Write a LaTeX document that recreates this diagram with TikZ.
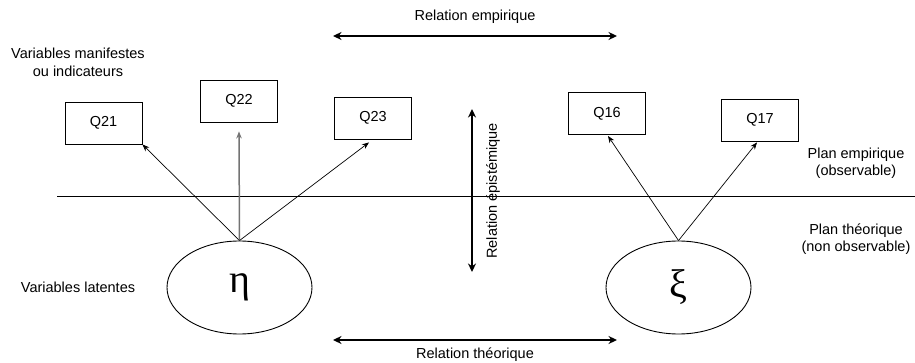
\documentclass[tikz,border=0pt]{standalone}
\usepackage{fontspec}
\setmainfont{Liberation Sans}
\newfontfamily\greekfont{Liberation Serif}
\usetikzlibrary{arrows.meta,shapes.geometric}
\tikzset{
  qbox/.style={draw,line width=0.9pt,minimum width=77pt,minimum height=42pt,inner sep=0pt,font=\fontsize{14.5}{17}\selectfont},
  lat/.style={draw,ellipse,line width=0.9pt,minimum width=145pt,minimum height=93pt,inner sep=0pt,font=\greekfont\fontsize{40}{40}\selectfont},
  lbl/.style={align=center,inner sep=0pt,font=\fontsize{14.5}{17.5}\selectfont},
  thin/.style={line width=0.7pt,-{Stealth[length=7pt,width=5.5pt]}},
  thick/.style={line width=2.6pt,{Stealth[length=8.5pt,width=8pt]}-{Stealth[length=8.5pt,width=8pt]}}
}
\begin{document}
\begin{tikzpicture}[x=1pt,y=-1pt]
\useasboundingbox (0,0) rectangle (915,363);
% boxes
\node[qbox] (q21) at (103.5,123) {Q21};
\node[qbox] (q22) at (239,101) {Q22};
\node[qbox] (q23) at (373,118) {Q23};
\node[qbox] (q16) at (607,113.5) {Q16};
\node[qbox] (q17) at (760,120) {Q17};
% latent
\node[lat] (eta) at (239.5,287.5) {η};
\node[lat] (xi) at (678.5,287.5) {ξ};
% plane separator
\coordinate (l1) at (57,196.5);
\coordinate (l2) at (915,196.5);
\draw[line width=0.9pt] (l1) -- (l2);
% loadings
\draw[thin] (eta.north) -- (q21.south east);
\draw[thin,black!55,line width=1.5pt] (eta.north) -- ([yshift=-9pt]q22.south);
\draw[thin] (eta.north) -- ([xshift=-4pt,yshift=-3pt]q23.south);
\draw[thin] (xi.north) -- ([xshift=1pt,yshift=-1pt]q16.south);
\draw[thin] (xi.north) -- ([xshift=-3pt,yshift=-1pt]q17.south);
% relations
\coordinate (ea) at (333,36);
\coordinate (eb) at (617,36);
\draw[thick] (ea) -- (eb);
\node[lbl] (empl) at (475,17) {Relation empirique};
\coordinate (ta) at (333,340);
\coordinate (tb) at (617,340);
\draw[thick] (ta) -- (tb);
\node[lbl] (theol) at (475,355) {Relation théorique};
\coordinate (va) at (472,109);
\coordinate (vb) at (472,272);
\draw[thick] (va) -- (vb);
\node[lbl,rotate=90] (epil) at (493,191) {Relation épistémique};
% side labels
\node[lbl] (vm) at (78,62.5) {Variables manifestes\\ou indicateurs};
\node[lbl] (vl) at (78,287) {Variables latentes};
\node[lbl] (pe) at (856,163) {Plan empirique\\(observable)};
\node[lbl] (pt) at (856,239) {Plan théorique\\(non observable)};
\end{tikzpicture}
\end{document}
